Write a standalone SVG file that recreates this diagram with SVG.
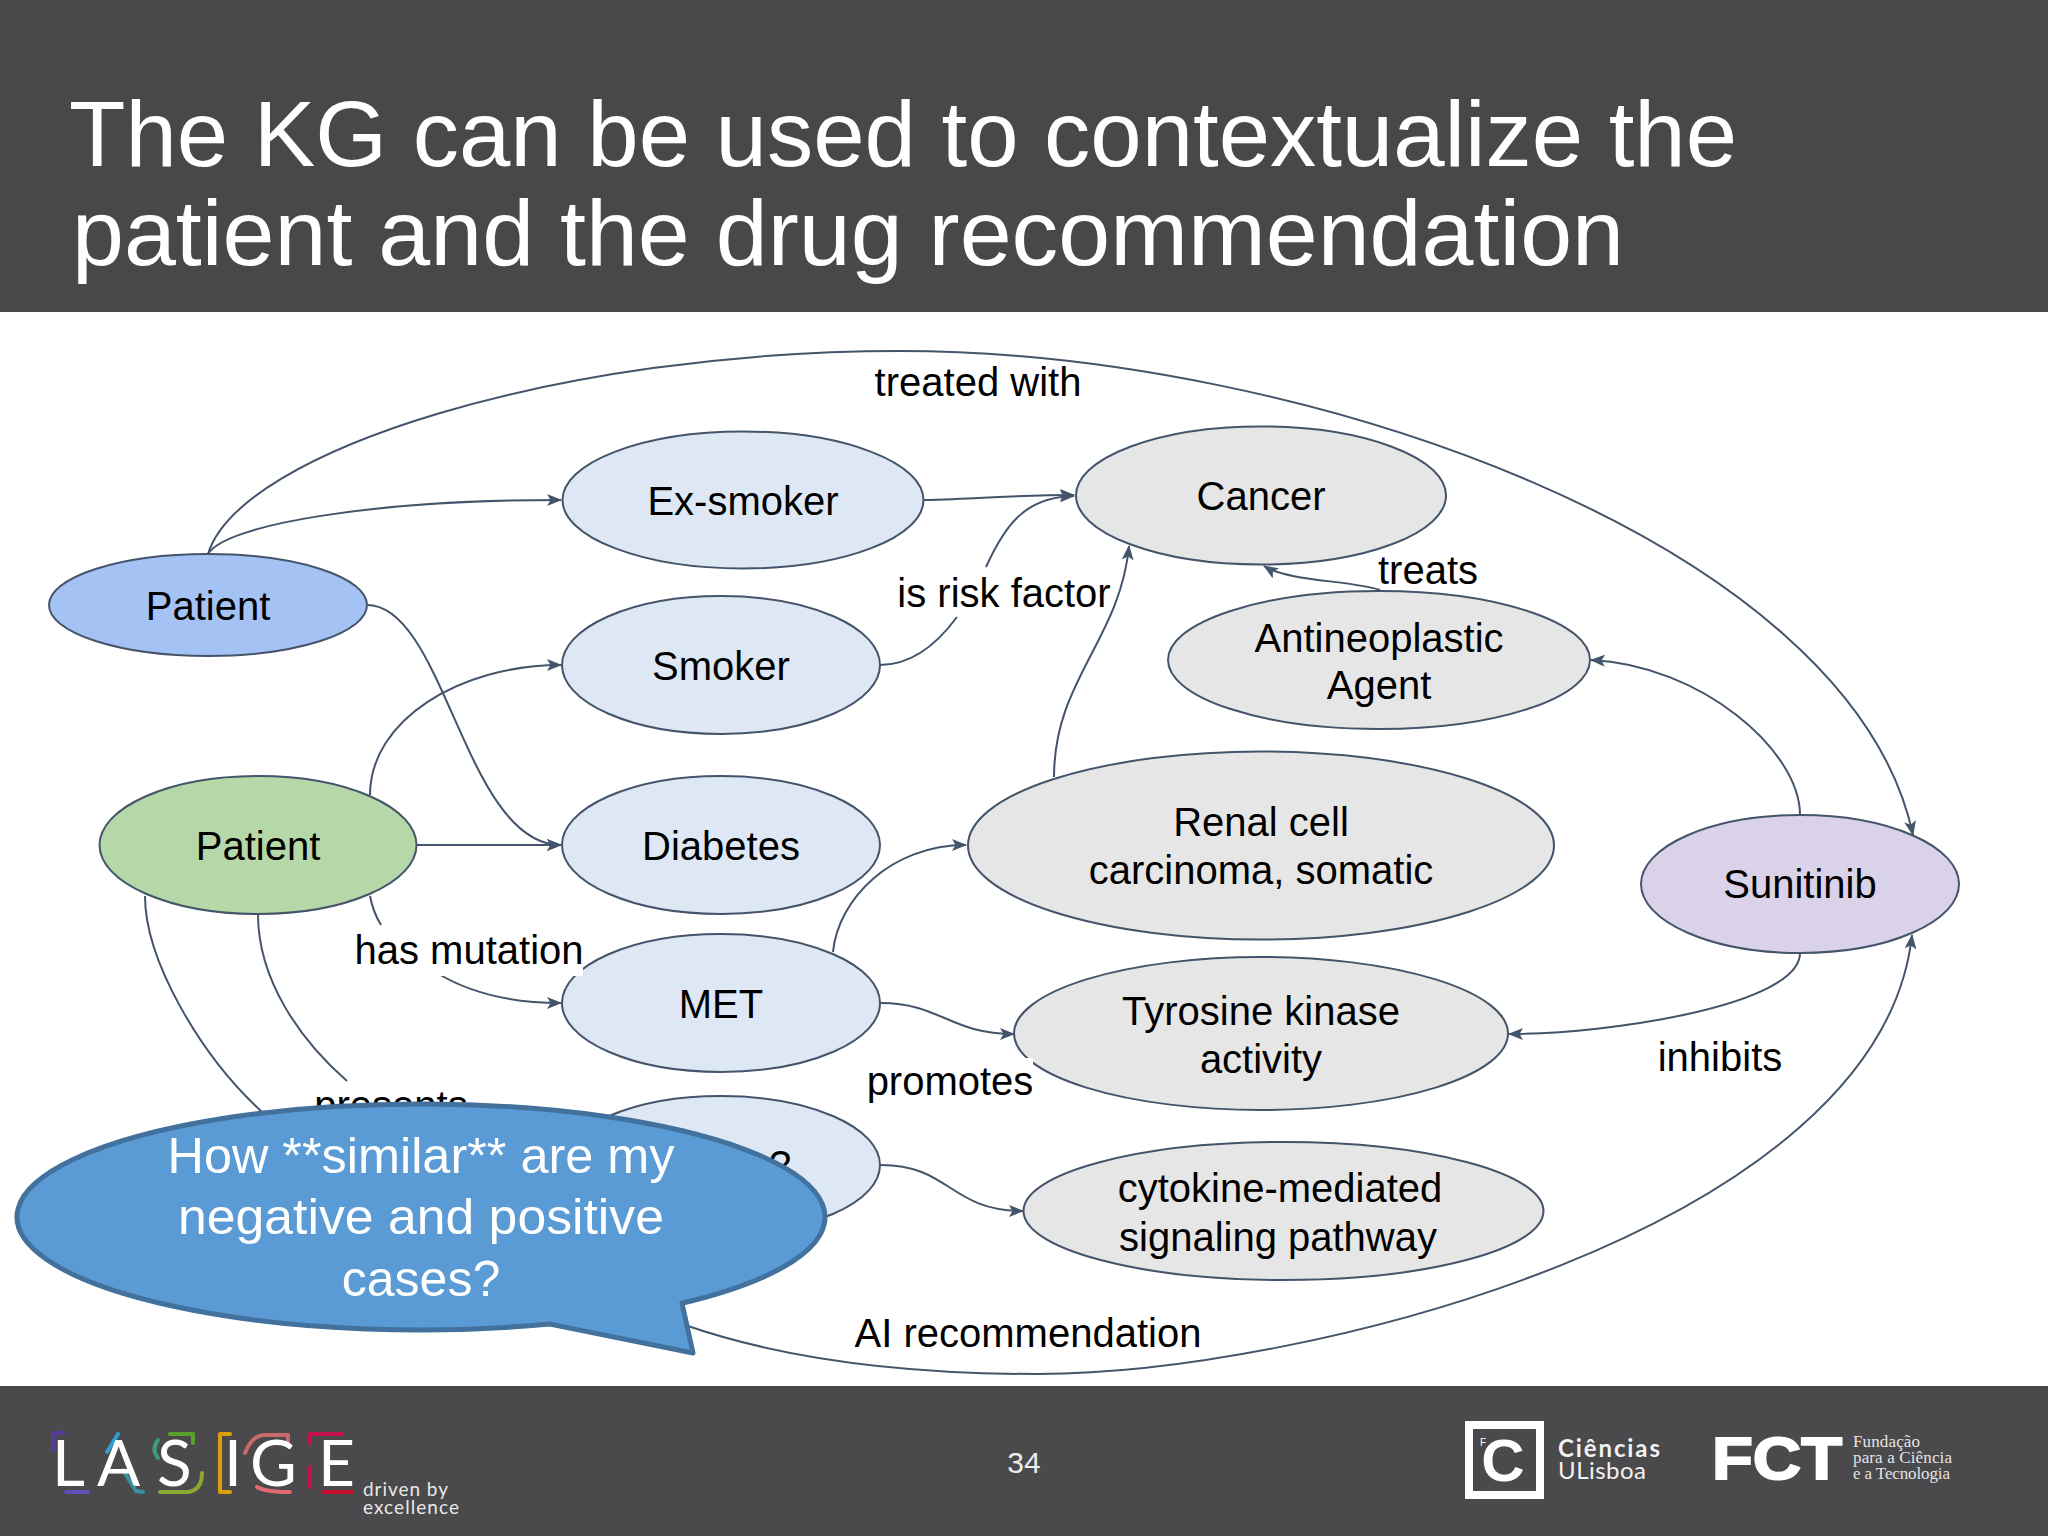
<svg xmlns="http://www.w3.org/2000/svg" width="2048" height="1536" viewBox="0 0 2048 1536">
<defs>
<style>
text{font-family:"Liberation Sans",Arial,sans-serif}
.n{stroke:#44546a;stroke-width:2}
.lb{font-size:40px;fill:#000;text-anchor:middle}
.e{fill:none;stroke:#44546a;stroke-width:2}
.a{marker-end:url(#arr)}
.blue{fill:#a4c2f4}.light{fill:#dee8f5}.gray{fill:#e6e6e6}.green{fill:#b6d7a8}.purple{fill:#d9d2e9}
.title{font-size:92px;fill:#fff}
.bt{font-size:50px;fill:#fff;text-anchor:middle}
.acc{fill:none;stroke-width:4;stroke-linecap:round;stroke-linejoin:round}
.lat{font-family:Lato,"Liberation Sans",sans-serif}
.ser{font-family:"Liberation Serif",serif;font-size:17px;fill:#e4e4e4}
</style>
<marker id="arr" markerUnits="userSpaceOnUse" markerWidth="15" markerHeight="12" refX="14" refY="6" orient="auto">
<path d="M0,0 L15,6 L0,12 L3.500,6 z" fill="#44546a"/>
</marker>
</defs>
<rect width="2048" height="1536" fill="#fff"/>
<g id="header">
<rect width="2048" height="312" fill="#484848"/>
<text class="title" x="69" y="166" textLength="1668" lengthAdjust="spacingAndGlyphs">The KG can be used to contextualize the</text>
<text class="title" x="72" y="265" textLength="1552" lengthAdjust="spacingAndGlyphs">patient and the drug recommendation</text>
</g>
<g id="connectors">
<path class="e a" d="M208,554 C240,450 560,351 900,351 C1300,351 1850,540 1913,835"/>
<path class="e a" d="M208,554 C225,525 370,500 561,500"/>
<path class="e a" d="M923,500 C960,500 1010,495 1074,495"/>
<path class="e" d="M880,665 C915,665 940,640 957,617"/>
<path class="e a" d="M986,567 C1005,525 1025,497 1074,496"/>
<path class="e a" d="M1054,777 C1054,680 1120,640 1129,546"/>
<path class="e a" d="M1380,590 C1350,580 1290,582 1264,566"/>
<path class="e a" d="M1800,815 C1800,750 1700,665 1591,660"/>
<path class="e a" d="M367,605 C445,605 465,845 561,845"/>
<path class="e a" d="M370,795 C370,720 460,665 561,665"/>
<path class="e a" d="M416,845 L561,845"/>
<path class="e" d="M370,896 Q373,912 381,925"/>
<path class="e a" d="M437,973 C470,993 510,1003 561,1003"/>
<path class="e" d="M258,914 C258,980 300,1040 347,1081"/>
<path class="e" d="M145,896 C145,960 200,1055 262,1112"/>
<path class="e a" d="M833,952 C838,900 890,845 966,845"/>
<path class="e a" d="M881,1003 C940,1003 950,1034 1014,1034"/>
<path class="e a" d="M881,1165 C950,1165 950,1211 1023,1211"/>
<path class="e a" d="M1800,953 C1800,1005 1610,1034 1509,1034"/>
<path class="e a" d="M685,1325 C800,1365 930,1374 1038,1374 C1300,1374 1880,1230 1912,935"/>
</g>
<g id="node-patient-blue"><ellipse class="n blue" cx="208" cy="605" rx="159" ry="51"/><text class="lb" x="208" y="620">Patient</text></g>
<g id="node-ex-smoker"><ellipse class="n light" cx="743" cy="500" rx="180.500" ry="68.500"/><text class="lb" x="743" y="515">Ex-smoker</text></g>
<g id="node-cancer"><ellipse class="n gray" cx="1261" cy="495.500" rx="185" ry="69"/><text class="lb" x="1261" y="510">Cancer</text></g>
<g id="node-smoker"><ellipse class="n light" cx="721" cy="665" rx="159" ry="69"/><text class="lb" x="721" y="680">Smoker</text></g>
<g id="node-antineoplastic"><ellipse class="n gray" cx="1379" cy="660" rx="211" ry="69"/><text class="lb" x="1379" y="652">Antineoplastic</text><text class="lb" x="1379" y="699">Agent</text></g>
<g id="node-patient-green"><ellipse class="n green" cx="258" cy="845" rx="158.500" ry="69"/><text class="lb" x="258" y="860">Patient</text></g>
<g id="node-diabetes"><ellipse class="n light" cx="721" cy="845" rx="159" ry="69"/><text class="lb" x="721" y="860">Diabetes</text></g>
<g id="node-renal"><ellipse class="n gray" cx="1261" cy="845.500" rx="293" ry="94"/><text class="lb" x="1261" y="836">Renal cell</text><text class="lb" x="1261" y="884">carcinoma, somatic</text></g>
<g id="node-sunitinib"><ellipse class="n purple" cx="1800" cy="884" rx="159" ry="69"/><text class="lb" x="1800" y="898">Sunitinib</text></g>
<g id="node-met"><ellipse class="n light" cx="721" cy="1003" rx="159" ry="69"/><text class="lb" x="721" y="1018">MET</text></g>
<g id="node-tyrosine"><ellipse class="n gray" cx="1261" cy="1033.500" rx="247" ry="76.500"/><text class="lb" x="1261" y="1025">Tyrosine kinase</text><text class="lb" x="1261" y="1073">activity</text></g>
<g id="node-hidden"><ellipse class="n light" cx="721" cy="1165" rx="159" ry="69"/><text class="lb" x="780" y="1179">?</text></g>
<g id="node-cytokine"><ellipse class="n gray" cx="1283.500" cy="1211" rx="260" ry="69"/><text class="lb" x="1280" y="1202">cytokine-mediated</text><text class="lb" x="1278" y="1251">signaling pathway</text></g>
<g id="edge-labels">
<rect x="350" y="928" width="233" height="48" fill="#fff"/>
<rect x="866" y="1058" width="167" height="46" fill="#fff"/>
<text class="lb" x="978" y="396">treated with</text>
<text class="lb" x="1004" y="607">is risk factor</text>
<text class="lb" x="1428" y="584">treats</text>
<text class="lb" x="469" y="964">has mutation</text>
<text class="lb" x="950" y="1095">promotes</text>
<text class="lb" x="1720" y="1071">inhibits</text>
<text class="lb" x="1028" y="1347">AI recommendation</text>
<text class="lb" x="391" y="1119">presents</text>
</g>
<g id="callout">
<path d="M550,1324.080 L693,1353 L682,1303.250 A404,113 0 1 0 550,1324.080 z" fill="#5b9bd5" stroke="#41719c" stroke-width="5" stroke-linejoin="round"/>
<text class="bt" x="421" y="1173" textLength="507" lengthAdjust="spacingAndGlyphs">How **similar** are my</text>
<text class="bt" x="421" y="1234" textLength="486" lengthAdjust="spacingAndGlyphs">negative and positive</text>
<text class="bt" x="421" y="1296">cases?</text>
</g>
<g id="footer">
<rect y="1386" width="2048" height="150" fill="#4a494c"/>
<text x="1024" y="1473" font-size="30" fill="#ececec" text-anchor="middle">34</text>
<g id="logo-lasige">
<path class="acc" stroke="#5a3a9a" d="M53,1450 L53,1433 L63,1433"/>
<path class="acc" stroke="#5f50b5" d="M66,1492 L88,1492"/>
<path class="acc" stroke="#2d9fd0" d="M107,1452 L118,1434"/>
<path class="acc" stroke="#3a8fa0" d="M123,1470 L136,1491 L143,1492"/>
<path class="acc" stroke="#5aa02c" d="M170,1434 L193,1434 L193,1443"/>
<path class="acc" stroke="#3f9a7a" d="M158,1440 Q151,1450 158,1458"/>
<path class="acc" stroke="#8aa830" d="M160,1492 L188,1492 Q202,1490 202,1473"/>
<path class="acc" stroke="#d9a00a" d="M230,1434 L220,1434 L220,1492 L230,1492"/>
<path class="acc" stroke="#c96a6a" d="M245,1453 Q252,1435 265,1435 L288,1435 L288,1443"/>
<path class="acc" stroke="#e06a70" d="M257,1487 Q265,1492 290,1492"/>
<path class="acc" stroke="#c4134a" d="M310,1443 L310,1434 L342,1434 M310,1467 L310,1487"/>
<path class="acc" stroke="#c8102e" d="M323,1492 L352,1492"/>
<text class="lat" x="52 97 157 224 250 318" y="1486" font-size="64" font-weight="400" fill="#fff">LASIGE</text>
<text class="lat" x="363" y="1496" font-size="19" fill="#e8e8e8" textLength="85">driven by</text>
<text class="lat" x="363" y="1514" font-size="19" fill="#e8e8e8" textLength="96">excellence</text>
</g>
<g id="logo-ciencias">
<rect x="1469" y="1425" width="71" height="70" fill="none" stroke="#fff" stroke-width="8"/>
<text x="1503" y="1481" font-size="60" font-weight="700" fill="#fff" text-anchor="middle">C</text>
<text x="1480" y="1446" font-size="10" fill="#fff">F</text>
<text class="lat" x="1558" y="1457" font-size="24" font-weight="700" fill="#f2f2f2" textLength="102">Ciências</text>
<text class="lat" x="1558" y="1479" font-size="24" fill="#f2f2f2" textLength="88">ULisboa</text>
</g>
<g id="logo-fct">
<text x="1712" y="1479" font-size="60" font-weight="700" fill="#fff" stroke="#fff" stroke-width="2" textLength="130" lengthAdjust="spacingAndGlyphs">FCT</text>
<text class="ser" x="1853" y="1447" textLength="67">Fundação</text>
<text class="ser" x="1853" y="1463" textLength="99">para a Ciência</text>
<text class="ser" x="1853" y="1479" textLength="97">e a Tecnologia</text>
</g>
</g>
</svg>
